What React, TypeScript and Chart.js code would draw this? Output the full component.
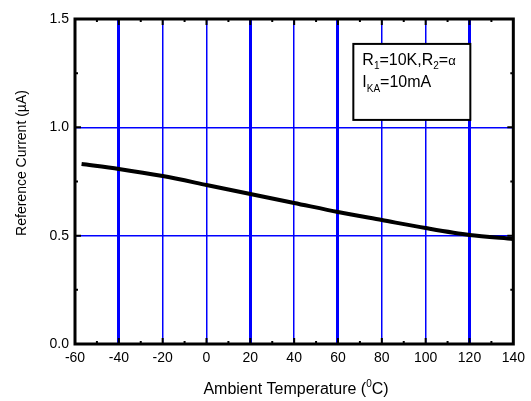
import React, { useEffect, useRef } from "react";
import { Chart, registerables } from "chart.js";

Chart.register(...registerables);

const temps = [-57, -40, -20, 0, 20, 40, 60, 80, 100, 120, 140];
const currents = [0.831, 0.808, 0.775, 0.734, 0.692, 0.651, 0.609, 0.572, 0.535, 0.503, 0.485];
const thickGridTemps = [-40, 20, 60, 120];
const xTitleParts = ["Ambient Temperature (", "0", "C)"];
const yTitle = "Reference Current (\u00b5A)";

const FONT = "'Liberation Sans', Arial, sans-serif";

const decorPlugin = {
  id: "decor",
  beforeDraw(chart: any) {
    const ctx = chart.ctx;
    ctx.save();
    ctx.fillStyle = "#fff";
    ctx.fillRect(0, 0, chart.width, chart.height);
    ctx.restore();
  },
  afterDraw(chart: any) {
    const ctx = chart.ctx;
    const a = chart.chartArea;
    const xs = chart.scales.x;
    const ys = chart.scales.y;
    ctx.save();
    // ticks inward
    ctx.strokeStyle = "#000";
    ctx.lineWidth = 2;
    for (let v = -50; v < 140; v += 10) {
      const px = xs.getPixelForValue(v);
      const len = v % 20 === 0 ? 6 : 3;
      ctx.beginPath();
      ctx.moveTo(px, a.bottom);
      ctx.lineTo(px, a.bottom - len);
      ctx.moveTo(px, a.top);
      ctx.lineTo(px, a.top + len);
      ctx.stroke();
    }
    for (let v = 0.25; v < 1.5; v += 0.25) {
      const py = ys.getPixelForValue(v);
      const len = Math.abs(v % 0.5) < 1e-6 ? 6 : 3;
      ctx.beginPath();
      ctx.moveTo(a.left, py);
      ctx.lineTo(a.left + len, py);
      ctx.moveTo(a.right, py);
      ctx.lineTo(a.right - len, py);
      ctx.stroke();
    }
    // frame
    ctx.lineWidth = 3;
    ctx.strokeRect(a.left, a.top, a.right - a.left, a.bottom - a.top);

    // annotation box
    const bx = xs.getPixelForValue(67);
    const by = ys.getPixelForValue(1.385);
    const bw = 117;
    const bh = 76;
    ctx.fillStyle = "#fff";
    ctx.fillRect(bx, by, bw, bh);
    ctx.lineWidth = 2;
    ctx.strokeRect(bx, by, bw, bh);
    ctx.fillStyle = "#000";
    ctx.textBaseline = "alphabetic";
    ctx.textAlign = "left";
    const big = `16px ${FONT}`;
    const small = `10px ${FONT}`;
    const drawRuns = (runs: [string, string, number][], x: number, y: number) => {
      let cx = x;
      for (const [t, f, dy] of runs) {
        ctx.font = f;
        ctx.fillText(t, cx, y + dy);
        cx += ctx.measureText(t).width;
      }
    };
    drawRuns(
      [
        ["R", big, 0],
        ["1", small, 4],
        ["=10K,R", big, 0],
        ["2", small, 4],
        ["=", big, 0],
        ["\u03b1", `13px ${FONT}`, 0],
      ],
      bx + 9,
      by + 21
    );
    drawRuns(
      [
        ["I", big, 0],
        ["KA", small, 5],
        ["=10mA", big, 0],
      ],
      bx + 9,
      by + 43
    );

    // x title
    ctx.font = `16px ${FONT}`;
    const w0 = ctx.measureText(xTitleParts[0]).width;
    const w2 = ctx.measureText(xTitleParts[2]).width;
    ctx.font = `10px ${FONT}`;
    const w1 = ctx.measureText(xTitleParts[1]).width;
    const total = w0 + w1 + w2;
    const cx = 296;
    const x0 = cx - total / 2;
    const ty = 394;
    ctx.font = `16px ${FONT}`;
    ctx.fillText(xTitleParts[0], x0, ty);
    ctx.font = `10px ${FONT}`;
    ctx.fillText(xTitleParts[1], x0 + w0, ty - 7);
    ctx.font = `16px ${FONT}`;
    ctx.fillText(xTitleParts[2], x0 + w0 + w1, ty);

    // y title
    ctx.translate(26, 163);
    ctx.rotate(-Math.PI / 2);
    ctx.textAlign = "center";
    ctx.font = `14px ${FONT}`;
    ctx.fillText(yTitle, 0, 0);
    ctx.restore();
  },
};

export default function App() {
  const ref = useRef<HTMLCanvasElement | null>(null);
  useEffect(() => {
    document.body.style.margin = "0";
    const canvas = ref.current!;
    const chart = new Chart(canvas, {
      type: "line",
      data: {
        datasets: [
          {
            data: temps.map((t, i) => ({ x: t, y: currents[i] })),
            borderColor: "#000",
            borderWidth: 4,
            pointRadius: 0,
            tension: 0.3,
            fill: false,
          },
        ],
      },
      options: {
        responsive: false,
        animation: false,
        devicePixelRatio: 1,
        layout: { padding: { top: 19, right: 15, left: 0, bottom: 0 } },
        plugins: { legend: { display: false }, tooltip: { enabled: false } },
        scales: {
          x: {
            type: "linear",
            min: -60,
            max: 140,
            afterFit: (s: any) => {
              s.height = 57;
            },
            border: { display: false },
            grid: {
              drawTicks: false,
              color: (c: any) =>
                c.tick && (c.tick.value === -60 || c.tick.value === 140) ? "rgba(0,0,0,0)" : "#0000ff",
              lineWidth: (c: any) =>
                c.tick && thickGridTemps.includes(c.tick.value) ? 3 : 1.5,
            },
            ticks: {
              stepSize: 20,
              padding: 6,
              color: "#000",
              font: { family: FONT, size: 14 },
              maxRotation: 0,
            },
          },
          y: {
            min: 0,
            max: 1.5,
            afterFit: (s: any) => {
              s.width = 75;
            },
            border: { display: false },
            grid: {
              drawTicks: false,
              color: (c: any) =>
                c.tick && (c.tick.value === 0 || c.tick.value === 1.5) ? "rgba(0,0,0,0)" : "#0000ff",
              lineWidth: 1.5,
            },
            ticks: {
              stepSize: 0.5,
              padding: 6,
              color: "#000",
              font: { family: FONT, size: 14 },
              callback: (v: any) => Number(v).toFixed(1),
            },
          },
        },
      },
      plugins: [decorPlugin],
    } as any);
    return () => chart.destroy();
  }, []);
  return <canvas ref={ref} width={531} height={401} style={{ display: "block" }} />;
}
